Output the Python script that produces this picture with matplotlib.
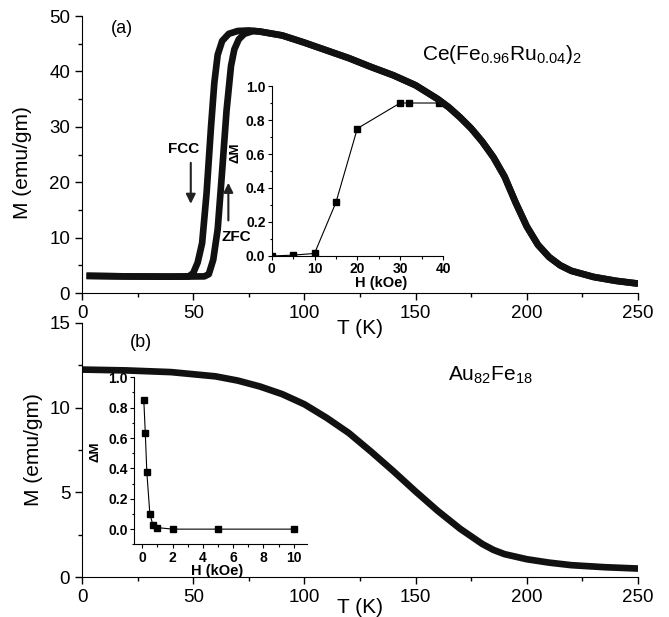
import numpy as np
import matplotlib
matplotlib.use("Agg")
import matplotlib.pyplot as plt
from matplotlib.ticker import MultipleLocator

plt.rcParams['font.family'] = ['Liberation Sans', 'DejaVu Sans']

# (a) Ce(Fe0.96Ru0.04)2 : FC and ZFC magnetisation
T_fc = [2, 20, 40, 48, 50, 52, 54, 56, 58, 59.5, 61, 63, 66, 70, 75, 80]
M_fc = [3.1, 3.0, 2.95, 3.0, 3.6, 5.5, 9.0, 18, 30, 38, 43, 45.5, 46.8, 47.3, 47.4, 47.2]
T_zfc = [2, 20, 40, 55, 57, 59, 61, 63, 65, 67, 68.5, 70.5, 73, 77, 80]
M_zfc = [3.1, 3.0, 2.95, 3.0, 3.4, 6.0, 11.5, 22, 33, 41, 44, 45.8, 46.8, 47.3, 47.2]
T_hi = [80, 90, 100, 110, 120, 130, 140, 150, 160, 165, 170, 175, 180, 185, 190,
        195, 200, 205, 210, 215, 220, 230, 240, 250]
M_hi = [47.2, 46.5, 45.2, 43.8, 42.4, 40.8, 39.3, 37.5, 35.0, 33.5, 31.7, 29.7, 27.3, 24.5, 21.0,
        16.3, 12.0, 8.7, 6.5, 5.0, 4.0, 2.9, 2.2, 1.7]

# inset (a): delta M vs H
H_a = [0, 5, 10, 15, 20, 30, 32, 39]
dM_a = [0.0, 0.005, 0.015, 0.315, 0.75, 0.90, 0.90, 0.90]

# (b) Au82Fe18
T_b = [0, 20, 40, 60, 70, 80, 90, 100, 110, 120, 130, 140, 150, 160, 170, 180, 185,
       190, 200, 210, 220, 235, 250]
M_b = [12.25, 12.2, 12.1, 11.85, 11.6, 11.25, 10.8, 10.2, 9.4, 8.5, 7.4, 6.25, 5.05, 3.9, 2.85,
       1.95, 1.6, 1.35, 1.05, 0.85, 0.7, 0.58, 0.5]

# inset (b)
H_b = [0.1, 0.2, 0.3, 0.5, 0.7, 1.0, 2, 5, 10]
dM_b = [0.85, 0.63, 0.375, 0.10, 0.028, 0.01, 0.0, 0.0, 0.0]


def style_main(ax):
    for s in ['top', 'right']:
        ax.spines[s].set_visible(False)
    ax.tick_params(which='major', direction='out', length=5, width=1, labelsize=13.5)
    ax.tick_params(which='minor', direction='out', length=3, width=1)


def style_inset(ax):
    for s in ['top', 'right']:
        ax.spines[s].set_visible(False)
    ax.patch.set_visible(False)
    ax.tick_params(which='major', direction='out', length=3, width=0.8, labelsize=10, pad=1.5)
    ax.tick_params(which='minor', direction='out', length=1.8, width=0.8)
    for lab in ax.get_xticklabels() + ax.get_yticklabels():
        lab.set_fontweight('bold')


fig = plt.figure(figsize=(6.69, 6.17), dpi=100)

# ---------------- panel (a)
ax1 = fig.add_axes([0.1226, 0.5251, 0.8311, 0.4489])
ax1.plot(T_fc + T_hi, M_fc + M_hi, color='#111111', lw=4.8, solid_capstyle='butt')
ax1.plot(T_zfc + T_hi, M_zfc + M_hi, color='#111111', lw=4.8, solid_capstyle='butt')
ax1.set_xlim(0, 250)
ax1.set_ylim(0, 50)
ax1.xaxis.set_major_locator(MultipleLocator(50))
ax1.xaxis.set_minor_locator(MultipleLocator(25))
ax1.yaxis.set_major_locator(MultipleLocator(10))
ax1.yaxis.set_minor_locator(MultipleLocator(5))
style_main(ax1)
ax1.set_xlabel('T (K)', fontsize=15)
ax1.xaxis.set_label_coords(0.5, -0.095)
ax1.set_ylabel('M (emu/gm)', fontsize=15)
ax1.yaxis.set_label_coords(-0.09, 0.47)
ax1.text(0.072, 0.955, '(a)', transform=ax1.transAxes, fontsize=13, va='center', ha='center')
ax1.text(0.755, 0.86, r'$\mathregular{Ce(Fe_{0.96}Ru_{0.04})_2}$', transform=ax1.transAxes,
         fontsize=15, va='center', ha='center')
ax1.text(45.8, 26, 'FCC', fontsize=11, fontweight='bold', ha='center', va='center')
ax1.text(69.4, 10.2, 'ZFC', fontsize=11, fontweight='bold', ha='center', va='center')
ax1.annotate('', xy=(48.9, 15.6), xytext=(48.9, 24.0),
             arrowprops=dict(arrowstyle='-|>', color='#222222', lw=1.5, mutation_scale=14))
ax1.annotate('', xy=(65.8, 20.4), xytext=(65.8, 12.6),
             arrowprops=dict(arrowstyle='-|>', color='#222222', lw=1.5, mutation_scale=14))
ax1.set_zorder(2)
ax1.patch.set_visible(False)

ins1 = fig.add_axes([0.4061, 0.5851, 0.2561, 0.2755])
ins1.set_zorder(1)
ins1.plot(H_a, dM_a, color='black', lw=0.8, marker='s', ms=5)
ins1.set_xlim(0, 40)
ins1.set_ylim(0, 1.0)
ins1.xaxis.set_major_locator(MultipleLocator(10))
ins1.xaxis.set_minor_locator(MultipleLocator(5))
ins1.yaxis.set_major_locator(MultipleLocator(0.2))
ins1.yaxis.set_minor_locator(MultipleLocator(0.1))
ins1.yaxis.set_major_formatter('{x:.1f}')
style_inset(ins1)
ins1.set_xlabel('H (kOe)', fontsize=10.5, fontweight='bold')
ins1.xaxis.set_label_coords(0.64, -0.115)
ins1.set_ylabel('ΔM', fontsize=9.5, fontweight='bold')
ins1.yaxis.set_label_coords(-0.175, 0.61)

# ---------------- panel (b)
ax2 = fig.add_axes([0.1226, 0.0648, 0.8311, 0.4117])
ax2.plot(T_b, M_b, color='#111111', lw=4.8, solid_capstyle='butt')
ax2.set_xlim(0, 250)
ax2.set_ylim(0, 15)
ax2.xaxis.set_major_locator(MultipleLocator(50))
ax2.xaxis.set_minor_locator(MultipleLocator(25))
ax2.yaxis.set_major_locator(MultipleLocator(5))
ax2.yaxis.set_minor_locator(MultipleLocator(2.5))
style_main(ax2)
ax2.set_xlabel('T (K)', fontsize=15)
ax2.xaxis.set_label_coords(0.5, -0.083)
ax2.set_ylabel('M (emu/gm)', fontsize=15)
ax2.yaxis.set_label_coords(-0.07, 0.5)
ax2.text(0.106, 0.925, '(b)', transform=ax2.transAxes, fontsize=13, va='center', ha='center')
ax2.text(0.734, 0.795, r'$\mathregular{Au_{82}Fe_{18}}$', transform=ax2.transAxes,
         fontsize=15, va='center', ha='center')

ins2 = fig.add_axes([0.2007, 0.1178, 0.2586, 0.2707])
ins2.plot(H_b, dM_b, color='black', lw=0.8, marker='s', ms=4.6)
ins2.set_xlim(-0.53, 10.9)
ins2.set_ylim(-0.1, 1.0)
ins2.xaxis.set_major_locator(MultipleLocator(2))
ins2.xaxis.set_minor_locator(MultipleLocator(1))
ins2.yaxis.set_major_locator(MultipleLocator(0.2))
ins2.yaxis.set_minor_locator(MultipleLocator(0.1))
ins2.yaxis.set_major_formatter('{x:.1f}')
style_inset(ins2)
ins2.set_xlabel('H (kOe)', fontsize=10.5, fontweight='bold')
ins2.xaxis.set_label_coords(0.478, -0.12)
ins2.set_ylabel('ΔM', fontsize=9.5, fontweight='bold')
ins2.yaxis.set_label_coords(-0.19, 0.555)

fig.savefig('out.png', dpi=100)
